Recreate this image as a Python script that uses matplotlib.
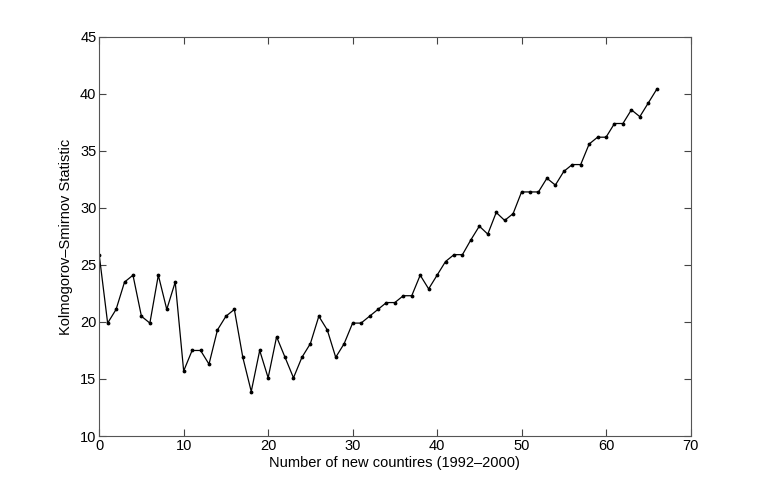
import matplotlib
matplotlib.use('Agg')
import matplotlib.pyplot as plt

plt.rcParams['font.family'] = ['Liberation Sans', 'DejaVu Sans']

# Number of new countries (x) and KS statistic (y)
new_countries = list(range(0, 67))
ks_stat = [25.9, 19.9, 21.1, 23.5, 24.1, 20.5, 19.9, 24.1, 21.1, 23.5,
           15.7, 17.5, 17.5, 16.3, 19.3, 20.5, 21.1, 16.9, 13.9, 17.5,
           15.1, 18.7, 16.9, 15.1, 16.9, 18.1, 20.5, 19.3, 16.9, 18.1,
           19.9, 19.9, 20.5, 21.1, 21.7, 21.7, 22.3, 22.3, 24.1, 22.9,
           24.1, 25.3, 25.9, 25.9, 27.2, 28.4, 27.7, 29.6, 28.9, 29.5,
           31.4, 31.4, 31.4, 32.6, 32.0, 33.2, 33.8, 33.8, 35.6, 36.2,
           36.2, 37.4, 37.4, 38.6, 38.0, 39.2, 40.4]

fig = plt.figure(figsize=(7.63, 4.91), dpi=100)
ax = fig.add_axes([0.13, 0.112, 0.775, 0.813])

ax.plot(new_countries, ks_stat, '-', color='black', linewidth=0.9,
        marker='.', markersize=3.5)

ax.set_xlim(0, 70)
ax.set_ylim(10, 45)
ax.set_xticks(range(0, 71, 10))
ax.set_yticks(range(10, 46, 5))
ax.tick_params(direction='in', length=5, labelsize=10.5, top=True, right=True,
               color='#444444', pad=2)
for s in ax.spines.values():
    s.set_color('#555555')
    s.set_linewidth(0.8)

ax.set_xlabel('Number of new countires (1992\u20132000)', fontsize=10.5, labelpad=2)
ax.set_ylabel('Kolmogorov\u2013Smirnov Statistic', fontsize=10.5, labelpad=5)

plt.savefig('out.png', dpi=100)
